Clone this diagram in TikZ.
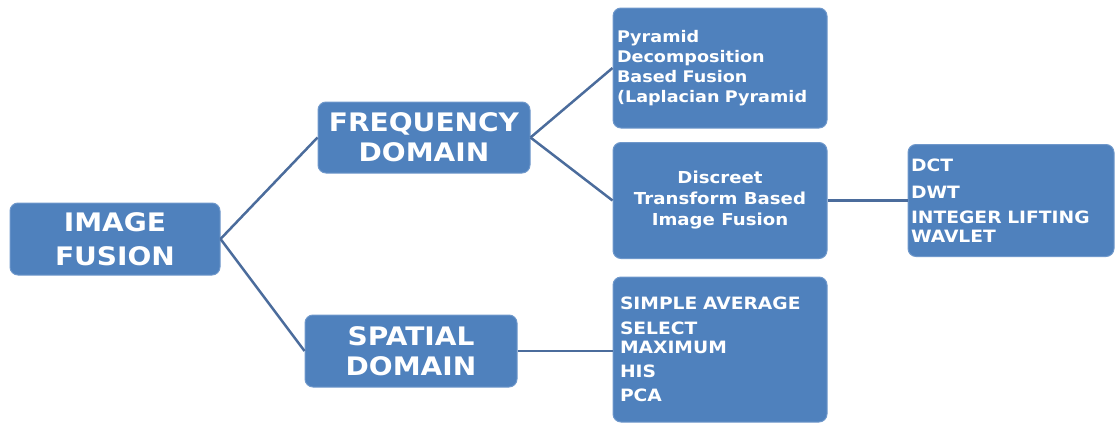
\documentclass[tikz,border=0pt]{standalone}
\usepackage{fontspec}
\setmainfont{DejaVu Sans}[FakeStretch=1.1]
\definecolor{boxblue}{HTML}{4F81BD}
\definecolor{boxedge}{HTML}{6F98CB}
\definecolor{linkblue}{HTML}{4B6C9C}
\begin{document}
\begin{tikzpicture}[x=1pt,y=1pt,
        box/.style={draw=boxedge, line width=1pt, fill=boxblue, rounded corners=8pt, text=white, inner sep=0pt},
        big/.style={box, font=\fontsize{25.5}{30}\selectfont\bfseries, align=center},
        small/.style={box, font=\fontsize{17}{19}\selectfont\bfseries},
        link/.style={linkblue, line width=2.5pt}]
        \useasboundingbox (0,0) rectangle (1116,-423);
        % left column
        \node [big, minimum width=210, minimum height=72] (fusion) at (115,-239) {IMAGE\\[4pt]FUSION};
        \node [big, minimum width=212, minimum height=71] (freq) at (424,-137.5) {FREQUENCY\\DOMAIN};
        \node [big, minimum width=212, minimum height=72] (spatial) at (411,-351) {SPATIAL\\DOMAIN};
        % middle column
        \node [small, minimum height=120, text width=206, inner xsep=4, align=left, font=\fontsize{16}{20}\selectfont\bfseries] (pyramid) at (720,-68)
            {Pyramid\\Decomposition\\Based Fusion\\(Laplacian Pyramid};
        \node [small, minimum width=214, minimum height=116, align=center, font=\fontsize{16.5}{21}\selectfont\bfseries] (discreet) at (720,-200.5)
            {Discreet\\Transform Based\\Image Fusion};
        \node [small, minimum height=145, text width=200, inner xsep=7, align=left] (methods) at (720,-349.5)
            {SIMPLE AVERAGE\\[6pt]SELECT\\MAXIMUM\\[5pt]HIS\\[5pt]PCA};
        % right column
        \node [small, minimum height=112, text width=200, inner xsep=3, align=left] (dct) at (1011,-200.5)
            {DCT\\[8pt]DWT\\[6pt]INTEGER LIFTING\\WAVLET};
        % connectors
        \draw [link] (fusion.east) -- (freq.west);
        \draw [link] (fusion.east) -- (spatial.west);
        \draw [link] (freq.east) -- (pyramid.west);
        \draw [link] (freq.east) -- (discreet.west);
        \draw [link] (discreet.east) -- (dct.west);
        \draw [link] (spatial.east) -- (spatial.east -| methods.west);
    \end{tikzpicture}
\end{document}
